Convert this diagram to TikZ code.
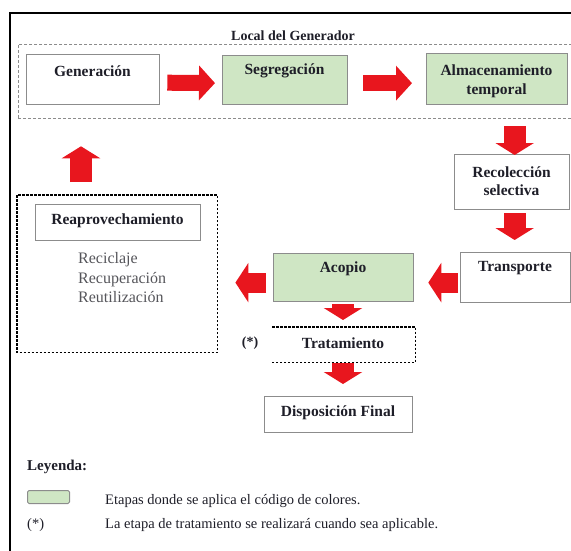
\documentclass[tikz,border=0pt]{standalone}
\usepackage{fontspec}
\setmainfont{LiberationSerif}[Extension=.ttf, UprightFont=*-Regular, BoldFont=*-Bold, ItalicFont=*-Italic, BoldItalicFont=*-BoldItalic]
\usetikzlibrary{arrows.meta,calc}
\definecolor{boxgreen}{RGB}{207,230,196}
\definecolor{arrred}{RGB}{232,22,30}
\definecolor{boxgray}{RGB}{140,140,140}
\definecolor{txt}{RGB}{30,30,40}
\definecolor{softtxt}{RGB}{85,85,90}
\begin{document}
\begin{tikzpicture}[x=1pt,y=-1pt,
  box/.style={draw=boxgray, line width=1.3pt, anchor=north west, inner sep=0pt},
  gbox/.style={box, fill=boxgreen},
  ttl/.style={font=\fontsize{15.5}{19}\selectfont\bfseries, text=txt, align=center, inner sep=0pt},
  small/.style={font=\fontsize{14.5}{18}\selectfont, text=txt, inner sep=0pt, anchor=west},
  harr/.style={line width=16pt, arrred, -{Triangle[width=34pt,length=16pt]}},
  larr/.style={line width=20pt, arrred, -{Triangle[width=39pt,length=13pt]}},
  varr/.style={line width=22pt, arrred, -{Triangle[width=38pt,length=12pt]}},
  gendash/.style={draw=boxgray, line width=0.9pt, dash pattern=on 3pt off 2pt, anchor=north west, inner sep=0pt},
  blkdash/.style={line width=1.6pt, dash pattern=on 2.5pt off 1.5pt}
]
\useasboundingbox (0,0) rectangle (571,550);
% outer frame
\draw[line width=2pt] (590,13) -- (10,13) -- (10,570);
% generator region
\node[gendash, minimum width=570pt, minimum height=74pt] (genreg) at (18,44) {};
\node[ttl, font=\fontsize{14}{17}\selectfont\bfseries] (genregt) at (293,36) {Local del Generador};
% boxes
\node[box, minimum width=133pt, minimum height=50pt] (gen) at (26,54) {};
\node[ttl] (gent) at (92.5,71) {Generación};
\node[gbox, minimum width=125pt, minimum height=49pt] (seg) at (222,55) {};
\node[ttl] (segt) at (284.5,71) {Segregación};
\node[gbox, minimum width=141pt, minimum height=51pt] (alm) at (426,53) {};
\node[ttl] (almt) at (496.5,81) {Almacenamiento\\temporal};
\node[box, minimum width=115pt, minimum height=55pt] (rec) at (454,154) {};
\node[ttl, font=\fontsize{15.5}{18}\selectfont\bfseries] (rect) at (511.5,181) {Recolección\\selectiva};
\node[box, minimum width=110pt, minimum height=50pt] (tra) at (460,252) {};
\node[ttl] (trat) at (515,268) {Transporte};
\node[gbox, minimum width=140pt, minimum height=48pt] (aco) at (273,253) {};
\node[ttl] (acot) at (343,269) {Acopio};
% tratamiento (open on the left)
\node[anchor=north west, inner sep=0pt, minimum width=143pt, minimum height=35pt] (trt) at (272,327) {};
\draw[blkdash] (trt.north west) -- (trt.north east) -- (trt.south east) -- (trt.south west);
\node[ttl] (trtt) at (343,343) {Tratamiento};
\node[ttl, font=\fontsize{14}{17}\selectfont\bfseries] (trtstar) at (250,343) {(*)};
% disposicion final
\node[box, minimum width=148pt, minimum height=36pt] (dis) at (264,396) {};
\node[ttl] (dist) at (338,413) {Disposición Final};
% reaprovechamiento
\node[anchor=north west, inner sep=0pt, minimum width=200pt, minimum height=157pt] (rpb) at (17,195) {};
\draw[blkdash] (rpb.north west) rectangle (rpb.south east);
\node[box, minimum width=165pt, minimum height=36pt, line width=1.1pt] (rp) at (35,204) {};
\node[ttl] (rpt) at (117.5,221) {Reaprovechamiento};
\node[font=\fontsize{16}{19.5}\selectfont, text=softtxt, align=left, anchor=west, inner sep=0pt] (rpl) at (78,278) {Reciclaje\\Recuperación\\Reutilización};
% arrows
\draw[harr, shorten <=7pt, shorten >=7pt] ([yshift=-3pt]gen.east) -- ([yshift=-3pt]seg.west);
\draw[harr, shorten <=15pt, shorten >=14pt] ([yshift=-3pt]seg.east) -- ([yshift=-3pt]seg.east -| alm.west);
\coordinate (d1s) at ($(rec.north |- alm.south)+(2.5,0)$);
\draw[varr, shorten <=21pt, shorten >=-1pt] (d1s) -- ([xshift=2.5pt]rec.north);
\draw[varr, shorten <=3pt, shorten >=12pt] ([xshift=2.5pt]rec.south) -- ([xshift=2.5pt]rec.south |- tra.north);
\draw[larr, shorten <=2pt, shorten >=14pt] ([yshift=-5pt]tra.west) -- ([yshift=-5pt]tra.west -| aco.east);
\draw[larr, shorten <=7pt, shorten >=18pt] ([yshift=-5pt]aco.west) -- ([yshift=-5pt]aco.west -| rpb.east);
\coordinate (ups) at (81,195);
\draw[varr, shorten <=13pt, shorten >=41pt] (ups) -- (ups |- gen.south);
\draw[varr, shorten <=2pt, shorten >=7pt] (aco.south -| trtt) -- (trt.north -| trtt);
\draw[varr, shorten <=1pt, shorten >=12pt] (trt.south -| trtt) -- (dis.north -| trtt);
% legend
\node[ttl, font=\fontsize{15}{18}\selectfont\bfseries, anchor=west] (ley) at (27,467) {Leyenda:};
\node[gbox, minimum width=42pt, minimum height=13pt, rounded corners=1.5pt, line width=1pt] (legbox) at (27,490) {};
\node[small] (leg1) at (105,501) {Etapas donde se aplica el código de colores.};
\node[small] (legstar) at (27,525) {(*)};
\node[small] (leg2) at (105,525) {La etapa de tratamiento se realizará cuando sea aplicable.};
\end{tikzpicture}
\end{document}
